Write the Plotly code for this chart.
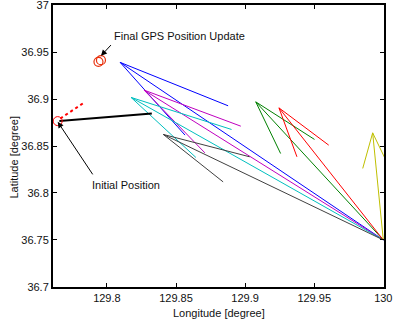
import plotly.graph_objects as go

# ---- data ----
hub_lon = 130.0
hub_lat = 36.75

fan_colors = ["#0000ff", "#bf00bf", "#00bfbf", "#404040", "#008000", "#ff0000", "#bfbf00"]
fan_vertex_lon = [129.8096, 129.8269, 129.8175, 129.8408, 129.9077, 129.9245, 129.9923]
fan_vertex_lat = [36.939, 36.9095, 36.9017, 36.8623, 36.897, 36.8906, 36.864]
fan_end1_lon = [129.8877, 129.8969, 129.8902, 129.9033, 129.9502, 129.9605, 130.0029]
fan_end1_lat = [36.8928, 36.8711, 36.8676, 36.8385, 36.857, 36.8509, 36.8317]
fan_end2_lon = [129.8565, 129.8709, 129.8644, 129.8841, 129.9257, 129.9375, 129.9851]
fan_end2_lat = [36.8616, 36.8427, 36.8378, 36.8118, 36.842, 36.8385, 36.8261]

path_lon = [129.7656, 129.8325]
path_lat = [36.8765, 36.8847]
heading_lon = [129.7663, 129.7843]
heading_lat = [36.8793, 36.897]
initial_lon = [129.7644]
initial_lat = [36.8765]
final_lon = [129.7939, 129.7957]
final_lat = [36.9396, 36.9414]

x_ticks = [129.8, 129.85, 129.9, 129.95, 130.0]
x_ticklabels = ["129.8", "129.85", "129.9", "129.95", "130"]
y_ticks = [36.7, 36.75, 36.8, 36.85, 36.9, 36.95, 37.0]
y_ticklabels = ["36.7", "36.75", "36.8", "36.85", "36.9", "36.95", "37"]

FONT = "Liberation Sans, Arial, sans-serif"

fig = go.Figure()

for i, c in enumerate(fan_colors):
    xs = [fan_vertex_lon[i], fan_end1_lon[i], None,
          fan_vertex_lon[i], fan_end2_lon[i], None,
          fan_vertex_lon[i], hub_lon]
    ys = [fan_vertex_lat[i], fan_end1_lat[i], None,
          fan_vertex_lat[i], fan_end2_lat[i], None,
          fan_vertex_lat[i], hub_lat]
    fig.add_trace(go.Scatter(x=xs, y=ys, mode="lines",
                             line=dict(color=c, width=1), hoverinfo="skip"))

fig.add_trace(go.Scatter(x=path_lon, y=path_lat, mode="lines",
                         line=dict(color="black", width=2)))
fig.add_trace(go.Scatter(x=heading_lon, y=heading_lat, mode="lines",
                         line=dict(color="red", width=2, dash="3px,3px")))
fig.add_trace(go.Scatter(x=initial_lon, y=initial_lat, mode="markers",
                         marker=dict(symbol="circle-open", size=9, color="red",
                                     line=dict(width=1))))
fig.add_trace(go.Scatter(x=final_lon, y=final_lat, mode="markers",
                         marker=dict(symbol="circle-open", size=9, color="#e8300c",
                                     line=dict(width=1.2))))

fig.add_annotation(x=129.7957, y=36.946, text=" ", showarrow=True,
                   ax=13, ay=-14, arrowhead=2, arrowsize=1.2, arrowwidth=1,
                   arrowcolor="black")
fig.add_annotation(x=129.8036, y=36.967, text="Final GPS Position Update",
                   showarrow=False, xanchor="left", yanchor="middle",
                   font=dict(family=FONT, size=11, color="#111"))
fig.add_annotation(x=129.7644, y=36.8757, text=" ", showarrow=True,
                   ax=38, ay=57, arrowhead=2, arrowsize=1.2, arrowwidth=1,
                   arrowcolor="black")
fig.add_annotation(x=129.8139, y=36.8083, text="Initial Position",
                   showarrow=False, xanchor="center", yanchor="middle",
                   font=dict(family=FONT, size=11, color="#111"))

# axis titles
fig.add_annotation(xref="paper", yref="paper", x=0.5, y=-0.093,
                   text="Longitude [degree]", showarrow=False,
                   xanchor="center", yanchor="middle",
                   font=dict(family=FONT, size=11, color="#111"))
fig.add_annotation(xref="paper", yref="paper", x=-0.117, y=0.46,
                   text="Latitude [degree]", showarrow=False, textangle=-90,
                   xanchor="center", yanchor="middle",
                   font=dict(family=FONT, size=11, color="#111"))

axis_common = dict(showgrid=False, zeroline=False, showline=True, linecolor="black",
                   linewidth=2, mirror="ticks", ticks="inside", ticklen=4,
                   tickcolor="black", tickwidth=1, automargin=False,
                   tickfont=dict(family=FONT, size=11, color="#111"))

fig.update_xaxes(range=[129.761, 130.0005], tickvals=x_ticks, ticktext=x_ticklabels,
                 ticklabeloverflow="allow", **axis_common)
fig.update_yaxes(range=[36.6999, 37.0001], tickvals=y_ticks, ticktext=y_ticklabels,
                 ticklabeloverflow="allow", **axis_common)

fig.update_layout(width=393, height=324, showlegend=False,
                  margin=dict(l=53, r=9, t=5, b=37, autoexpand=False),
                  plot_bgcolor="white", paper_bgcolor="white",
                  font=dict(family=FONT, size=11, color="#111"))

fig.write_html("out.html", config={"displayModeBar": False},
               post_script="document.body.style.margin='0';document.body.style.padding='0';")
